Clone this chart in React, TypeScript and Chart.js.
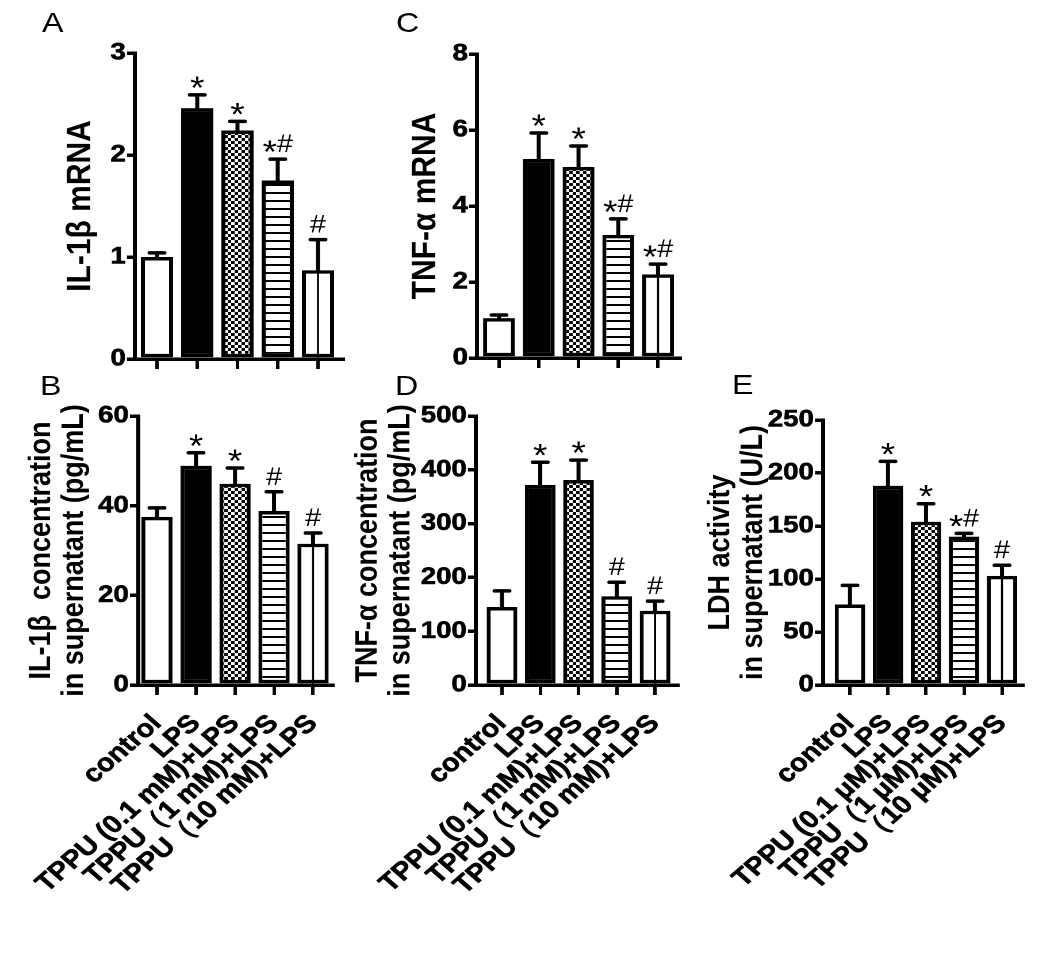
import React, { useEffect, useRef } from "react";
import { Chart, registerables } from "chart.js";

Chart.register(...registerables);

const FAMILY = "'Liberation Sans', Arial, Helvetica, sans-serif";
const STRETCH = 1.15;

// ---------- data ----------
const groupsMM = ["control", "LPS", "TPPU (0.1 mM)+LPS", "TPPU（1 mM)+LPS", "TPPU（10 mM)+LPS"];
const groupsUM = ["control", "LPS", "TPPU (0.1 μM)+LPS", "TPPU（1 μM)+LPS", "TPPU（10 μM)+LPS"];

const il1bMrna = [1.0, 2.46, 2.24, 1.75, 0.87];
const il1bMrnaErr = [0.04, 0.13, 0.09, 0.21, 0.3];
const il1bMrnaMarks = ["", "*", "*", "*#", "#"];

const tnfMrna = [1.05, 5.24, 5.03, 3.24, 2.2];
const tnfMrnaErr = [0.08, 0.68, 0.55, 0.42, 0.27];
const tnfMrnaMarks = ["", "*", "*", "*#", "*#"];

const il1bConc = [37.5, 48.9, 44.9, 38.8, 31.5];
const il1bConcErr = [2.0, 2.9, 3.5, 4.3, 2.4];
const il1bConcMarks = ["", "*", "*", "#", "#"];

const tnfConc = [145, 372, 381, 165, 138];
const tnfConcErr = [30, 42, 37, 26, 18];
const tnfConcMarks = ["", "*", "*", "#", "#"];

const ldhAct = [76, 188, 154, 140, 103];
const ldhActErr = [18, 23, 17, 3, 10];
const ldhActMarks = ["", "*", "*", "*#", "#"];

const yTicksA = { max: 3, step: 1 };
const yTicksC = { max: 8, step: 2 };
const yTicksB = { max: 60, step: 20 };
const yTicksD = { max: 500, step: 100 };
const yTicksE = { max: 250, step: 50 };

// ---------- layout (logical px, x is later stretched by STRETCH) ----------
type PanelDef = {
  id: string;
  cv: { x: number; y: number; w: number; h: number };
  area: { L: number; T: number; R: number; B: number };
  first: number;
  last: number;
  labels: string[];
  showLabels: boolean;
  values: number[];
  errs: number[];
  marks: string[];
  yMax: number;
  yStep: number;
  title: string | string[];
  titleSize: number;
  titleLH: number;
  titleMid: number;
  letter: { x: number; y: number };
};

const PANELS: PanelDef[] = [
  {
    id: "A", cv: { x: 0, y: 0, w: 305, h: 380 }, area: { L: 117.4, T: 53, R: 298.3, B: 359 },
    first: 136.5, last: 276.5, labels: groupsMM, showLabels: false,
    values: il1bMrna, errs: il1bMrnaErr, marks: il1bMrnaMarks, yMax: yTicksA.max, yStep: yTicksA.step,
    title: "IL-1β mRNA", titleSize: 30, titleLH: 33, titleMid: 70.4, letter: { x: 36.5, y: 9.4 },
  },
  {
    id: "C", cv: { x: 300, y: 0, w: 300, h: 380 }, area: { L: 414.8, T: 54, R: 591.3, B: 358 },
    first: 433.9, last: 572.2, labels: groupsMM, showLabels: false,
    values: tnfMrna, errs: tnfMrnaErr, marks: tnfMrnaMarks, yMax: yTicksC.max, yStep: yTicksC.step,
    title: "TNF-α mRNA", titleSize: 30, titleLH: 33, titleMid: 370.4, letter: { x: 344.3, y: 9 },
  },
  {
    id: "B", cv: { x: 0, y: 380, w: 300, h: 583 }, area: { L: 120, T: 416, R: 289.6, B: 685 },
    first: 136.5, last: 272.2, labels: groupsMM, showLabels: true,
    values: il1bConc, errs: il1bConcErr, marks: il1bConcMarks, yMax: yTicksB.max, yStep: yTicksB.step,
    title: ["IL-1β  concentration", "in supernatant (pg/mL)"], titleSize: 27, titleLH: 28.5, titleMid: 35.9,
    letter: { x: 34.8, y: 372 },
  },
  {
    id: "D", cv: { x: 300, y: 380, w: 300, h: 583 }, area: { L: 413.9, T: 416, R: 589.6, B: 685 },
    first: 436.5, last: 569.6, labels: groupsMM, showLabels: true,
    values: tnfConc, errs: tnfConcErr, marks: tnfConcMarks, yMax: yTicksD.max, yStep: yTicksD.step,
    title: ["TNF-α concentration", "in supernatant (pg/mL)"], titleSize: 27, titleLH: 28.5, titleMid: 320,
    letter: { x: 343.5, y: 372 },
  },
  {
    id: "E", cv: { x: 600, y: 380, w: 313, h: 583 }, area: { L: 715.7, T: 420, R: 889.6, B: 685 },
    first: 739.1, last: 871.3, labels: groupsUM, showLabels: true,
    values: ldhAct, errs: ldhActErr, marks: ldhActMarks, yMax: yTicksE.max, yStep: yTicksE.step,
    title: ["LDH activity", "in supernatant (U/L)"], titleSize: 27, titleLH: 28.5, titleMid: 626.3,
    letter: { x: 636.5, y: 371 },
  },
];

function makePatternCanvases() {
  const checker = document.createElement("canvas");
  checker.width = 12;
  checker.height = 12;
  const c = checker.getContext("2d")!;
  c.fillStyle = "#fff";
  c.fillRect(0, 0, 12, 12);
  c.fillStyle = "#000";
  c.fillRect(0, 0, 6, 6);
  c.fillRect(6, 6, 6, 6);

  const stripe = document.createElement("canvas");
  stripe.width = 4;
  stripe.height = 16;
  const s = stripe.getContext("2d")!;
  s.fillStyle = "#fff";
  s.fillRect(0, 0, 4, 16);
  s.fillStyle = "#000";
  s.fillRect(0, 0, 4, 4);
  return { checker, stripe };
}

function drawMarks(ctx: CanvasRenderingContext2D, text: string, cx: number, baseY: number) {
  const parts = [...text].map((ch) => ({
    ch,
    font: ch === "*" ? `32px ${FAMILY}` : `25px ${FAMILY}`,
    dy: ch === "*" ? 11 : 0,
    w: 0,
  }));
  let total = 0;
  parts.forEach((p) => {
    ctx.font = p.font;
    p.w = ctx.measureText(p.ch).width;
    total += p.w;
  });
  let x = cx - total / 2;
  ctx.textAlign = "left";
  ctx.textBaseline = "alphabetic";
  parts.forEach((p) => {
    ctx.font = p.font;
    ctx.fillText(p.ch, x, baseY + p.dy);
    x += p.w;
  });
}

function PanelChart({ def }: { def: PanelDef }) {
  const ref = useRef<HTMLCanvasElement>(null);

  useEffect(() => {
    const canvas = ref.current!;
    const ctx2d = canvas.getContext("2d")!;
    const { checker, stripe } = makePatternCanvases();
    const half = new DOMMatrix().scale(0.5);
    const checkerPat = ctx2d.createPattern(checker, "repeat")!;
    checkerPat.setTransform(half);
    const stripePat = ctx2d.createPattern(stripe, "repeat")!;
    stripePat.setTransform(half);
    const fills: any[] = ["#ffffff", "#000000", checkerPat, stripePat, "#ffffff"];
    const centerLine = [false, false, false, false, true];

    const { cv, area } = def;
    const titlePad = def.titleMid - cv.x - def.titleLH / 2;

    const xShift = {
      id: "xShift",
      afterLayout(chart: any) {
        const s = chart.scales.x;
        const ppu = (def.last - def.first) / 4;
        const firstLocal = def.first - cv.x;
        s._startValue = -(firstLocal - s.left) / ppu;
        s._valueRange = (s.right - s.left) / ppu;
      },
    };

    const decorations = {
      id: "decorations",
      afterDatasetsDraw(chart: any) {
        const ctx: CanvasRenderingContext2D = chart.ctx;
        const meta = chart.getDatasetMeta(0);
        const y = chart.scales.y;
        ctx.save();
        ctx.strokeStyle = "#000";
        ctx.fillStyle = "#000";
        meta.data.forEach((bar: any, i: number) => {
          if (centerLine[i]) {
            ctx.lineWidth = 1.8;
            ctx.lineCap = "butt";
            ctx.beginPath();
            ctx.moveTo(bar.x, bar.base);
            ctx.lineTo(bar.x, bar.y);
            ctx.stroke();
          }
          const top = y.getPixelForValue(def.values[i] + def.errs[i]);
          ctx.lineWidth = 3.5;
          ctx.lineCap = "round";
          ctx.beginPath();
          ctx.moveTo(bar.x, bar.y);
          ctx.lineTo(bar.x, top);
          ctx.moveTo(bar.x - 6.5, top);
          ctx.lineTo(bar.x + 6.5, top);
          ctx.stroke();
          if (def.marks[i]) drawMarks(ctx, def.marks[i], bar.x, top - 7);
        });
        ctx.restore();
      },
    };

    const chart = new Chart(canvas, {
      type: "bar",
      data: {
        labels: def.labels,
        datasets: [
          {
            data: def.values,
            backgroundColor: fills,
            borderColor: "#000",
            borderWidth: 3.5,
            borderSkipped: false,
            barPercentage: 0.8,
            categoryPercentage: 1,
            clip: false,
          },
        ],
      },
      options: {
        responsive: false,
        animation: false,
        devicePixelRatio: 2,
        events: [],
        layout: {
          padding: { left: 0, top: area.T - cv.y, right: cv.x + cv.w - area.R, bottom: 0 },
        },
        plugins: {
          legend: { display: false },
          tooltip: { enabled: false },
          title: { display: false },
        },
        scales: {
          x: {
            type: "category",
            offset: true,
            grid: {
              display: true,
              offset: false,
              drawOnChartArea: false,
              drawTicks: true,
              tickLength: 10,
              lineWidth: 3,
              color: "#000",
            },
            border: { display: true, color: "#000", width: 3.5 },
            ticks: {
              display: def.showLabels,
              autoSkip: false,
              minRotation: 45,
              maxRotation: 45,
              padding: 14,
              color: "#000",
              textStrokeColor: "#000",
              textStrokeWidth: 0.6,
              font: { family: FAMILY, size: 25, weight: "bold" },
            },
            afterFit: (s: any) => {
              s.height = cv.y + cv.h - area.B;
              s.paddingLeft = 0;
              s.paddingRight = 0;
            },
          },
          y: {
            min: 0,
            max: def.yMax,
            grid: {
              display: true,
              drawOnChartArea: false,
              drawTicks: true,
              tickLength: 7,
              lineWidth: 3.5,
              color: "#000",
            },
            border: { display: true, color: "#000", width: 3.5 },
            ticks: {
              stepSize: def.yStep,
              padding: 1,
              color: "#000",
              textStrokeColor: "#000",
              textStrokeWidth: 0.6,
              font: { family: FAMILY, size: 24, weight: "bold" },
            },
            title: {
              display: true,
              text: def.title,
              color: "#000",
              font: {
                family: FAMILY,
                size: def.titleSize,
                weight: "bold",
                lineHeight: def.titleLH / def.titleSize,
              },
              padding: { top: titlePad, bottom: 0 },
            },
            afterFit: (s: any) => {
              s.width = area.L - cv.x;
              s.paddingTop = 0;
              s.paddingBottom = 0;
            },
          },
        },
      } as any,
      plugins: [xShift, decorations],
    });
    return () => chart.destroy();
  }, [def]);

  return (
    <canvas
      ref={ref}
      width={def.cv.w}
      height={def.cv.h}
      style={{
        position: "absolute",
        left: def.cv.x,
        top: def.cv.y,
        width: def.cv.w,
        height: def.cv.h,
      }}
    />
  );
}

export default function App() {
  return (
    <div
      style={{
        position: "absolute",
        left: 0,
        top: 0,
        width: 1050 / STRETCH,
        height: 963,
        background: "#fff",
        transform: `scaleX(${STRETCH})`,
        transformOrigin: "0 0",
        overflow: "hidden",
      }}
    >
      {PANELS.map((p) => (
        <PanelChart key={p.id} def={p} />
      ))}
      {PANELS.map((p) => (
        <div
          key={"L" + p.id}
          style={{
            position: "absolute",
            left: p.letter.x,
            top: p.letter.y,
            fontFamily: FAMILY,
            fontSize: 28,
            lineHeight: "28px",
            color: "#000",
          }}
        >
          {p.id}
        </div>
      ))}
    </div>
  );
}
